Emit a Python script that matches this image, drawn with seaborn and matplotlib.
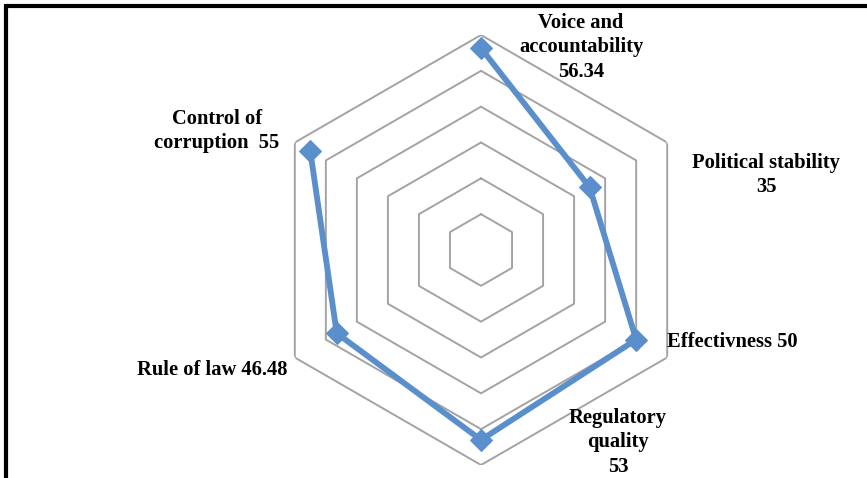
import numpy as np
import pandas as pd
import matplotlib
matplotlib.use("Agg")
import matplotlib.pyplot as plt
from matplotlib.lines import Line2D
import seaborn as sns

# Governance indicators (clockwise from the top)
indicators = ["Voice and accountability", "Political stability", "Effectivness",
              "Regulatory quality", "Rule of law", "Control of corruption"]
scores = [56.34, 35, 50, 53, 46.48, 55]
label_templates = ["Voice and\naccountability\n{v}", "Political stability\n{v}",
                   "Effectivness {v}", "Regulatory\nquality\n{v}",
                   "Rule of law {v}", "Control of\ncorruption  {v}"]
ring_levels = [10, 20, 30, 40, 50, 60]

sns.set_theme(style="white")
plt.rcParams["font.family"] = ["Liberation Serif", "DejaVu Serif"]

W, H = 867, 478
fig = plt.figure(figsize=(W / 100, H / 100), dpi=100)

# Square polar axes centred on the hexagon
cx, cy, R = 481, 250, 215
ax = fig.add_axes([(cx - R) / W, (H - cy - R) / H, 2 * R / W, 2 * R / H],
                  projection="polar")
ax.set_theta_offset(np.pi / 2)
ax.set_theta_direction(-1)
ax.set_ylim(0, ring_levels[-1])
ax.grid(False)
ax.set_xticks([])
ax.set_yticks([])
ax.spines["polar"].set_visible(False)
ax.patch.set_alpha(0)

n = len(indicators)
angles = np.linspace(0, 2 * np.pi, n, endpoint=False)

# Hexagonal grid rings
ring_theta = np.append(angles, angles[0])
for lvl in ring_levels:
    ax.plot(ring_theta, [lvl] * (n + 1), color="#a3a3a3", lw=1.4, zorder=1)

# Closed data polygon
df = pd.DataFrame({"theta": np.append(angles, angles[0]),
                   "score": scores + [scores[0]]})
sns.lineplot(data=df, x="theta", y="score", sort=False, ax=ax,
             color="#5a8fcc", lw=4.2, marker="D", markersize=11,
             markeredgecolor="#5a8fcc", zorder=3)
ax.set_xlabel("")
ax.set_ylabel("")

# Category labels with their values
label_pos = [(581, 47), (766, 175), (732, 342), (618, 442), (212, 370), (217, 131)]
for tmpl, v, (px, py) in zip(label_templates, scores, label_pos):
    fig.text(px / W, 1 - py / H, tmpl.format(v=f"{v:g}"), ha="center", va="center",
             fontsize=14.8, fontweight="bold", color="black", linespacing=1.3)

# Frame lines along the top and left edges
fig.add_artist(Line2D([5.5 / W, 1], [1 - 5.5 / H, 1 - 5.5 / H], color="black", lw=3.0,
                      solid_capstyle="butt", transform=fig.transFigure))
fig.add_artist(Line2D([5.5 / W, 5.5 / W], [1 - 4 / H, 0], color="black", lw=3.0,
                      solid_capstyle="butt", transform=fig.transFigure))

fig.savefig("out.png", dpi=100)
